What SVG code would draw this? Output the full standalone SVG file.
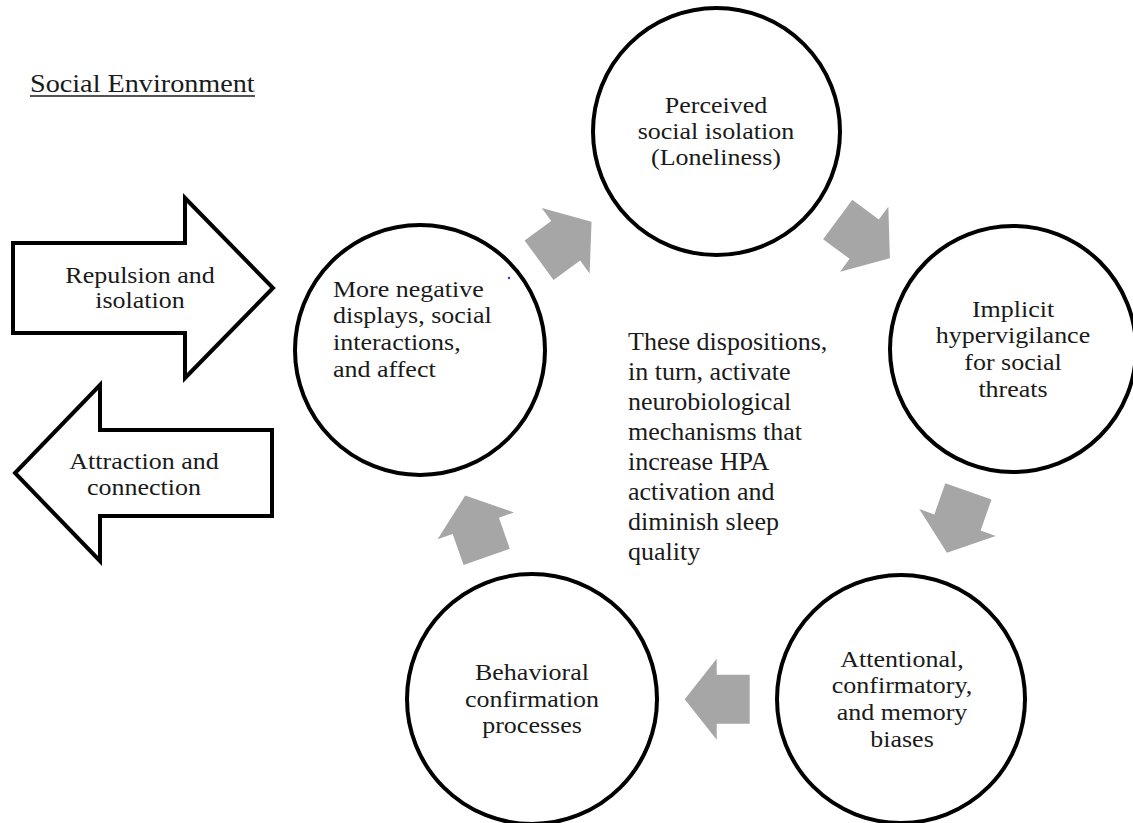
<svg xmlns="http://www.w3.org/2000/svg" width="1133" height="823" viewBox="0 0 1133 823">
<style>
text{font-family:"Liberation Serif","Times New Roman",serif;font-size:22.6px;fill:#1a1a1a}
.c{text-anchor:middle}
.mid text{font-size:26px}
.ttl{font-size:26px}
.node{fill:#fff;stroke:#000;stroke-width:4}
.big{fill:#fff;stroke:#000;stroke-width:4;stroke-linejoin:miter}
.ga{fill:#a6a6a6}
</style>
<defs>
<path id="ga" d="M-33,-24.5 L0,-24.5 L0,-40.5 L32,0 L0,40.5 L0,24.5 L-33,24.5 Z"/>
</defs>
<rect width="1133" height="823" fill="#fff"/>
<g id="title">
<text class="ttl" transform="translate(30,92) scale(1.085,1)">Social Environment</text>
<line x1="30" y1="96" x2="255" y2="96" stroke="#1a1a1a" stroke-width="1.3"/>
</g>
<g id="repulsion">
<path class="big" d="M13,243 L185,243 L185,198 L273,288 L185,378 L185,333 L13,333 Z"/>
<g transform="translate(140,0) scale(1.15,1)">
<text class="c" x="0" y="283">Repulsion and</text>
<text class="c" x="0" y="308">isolation</text>
</g>
</g>
<g id="attraction">
<path class="big" d="M272,430 L100,430 L100,385 L15,473 L100,561 L100,516 L272,516 Z"/>
<g transform="translate(144,0) scale(1.15,1)">
<text class="c" x="0" y="469">Attraction and</text>
<text class="c" x="0" y="495">connection</text>
</g>
</g>
<g id="connectors" class="ga">
<use href="#ga" transform="translate(565.7,240.7) rotate(-36.2)"/>
<use href="#ga" transform="translate(864.2,239.2) rotate(36.6)"/>
<use href="#ga" transform="translate(957.5,522.5) rotate(109.3)"/>
<use href="#ga" transform="translate(716.7,699.2) rotate(180)"/>
<use href="#ga" transform="translate(475.8,525.8) rotate(-109.3)"/>
</g>
<g id="perceived">
<circle class="node" cx="716.5" cy="131.5" r="123.5"/>
<g transform="translate(716,0) scale(1.15,1)">
<text class="c" x="0" y="113">Perceived</text>
<text class="c" x="0" y="139">social isolation</text>
<text class="c" x="0" y="165">(Loneliness)</text>
</g>
</g>
<g id="implicit">
<circle class="node" cx="1013" cy="349" r="123"/>
<g transform="translate(1013,0) scale(1.15,1)">
<text class="c" x="0" y="317">Implicit</text>
<text class="c" x="0" y="343">hypervigilance</text>
<text class="c" x="0" y="370">for social</text>
<text class="c" x="0" y="397">threats</text>
</g>
</g>
<g id="attentional">
<circle class="node" cx="901" cy="699" r="124"/>
<g transform="translate(902,0) scale(1.15,1)">
<text class="c" x="0" y="667">Attentional,</text>
<text class="c" x="0" y="693">confirmatory,</text>
<text class="c" x="0" y="720">and memory</text>
<text class="c" x="0" y="747">biases</text>
</g>
</g>
<g id="behavioral">
<circle class="node" cx="532" cy="699" r="125"/>
<g transform="translate(532,0) scale(1.15,1)">
<text class="c" x="0" y="680">Behavioral</text>
<text class="c" x="0" y="707">confirmation</text>
<text class="c" x="0" y="733">processes</text>
</g>
</g>
<g id="negative">
<circle class="node" cx="420" cy="350" r="125"/>
<g transform="translate(333,0) scale(1.15,1)">
<text x="0" y="297">More negative</text>
<text x="0" y="323">displays, social</text>
<text x="0" y="350">interactions,</text>
<text x="0" y="377">and affect</text>
</g>
<circle cx="509" cy="278" r="1.2" fill="#3030ff"/>
</g>
<g id="center-note" class="mid">
<text x="628" y="350">These dispositions,</text>
<text x="628" y="380">in turn, activate</text>
<text x="628" y="410">neurobiological</text>
<text x="628" y="440">mechanisms that</text>
<text x="628" y="470">increase HPA</text>
<text x="628" y="500">activation and</text>
<text x="628" y="530">diminish sleep</text>
<text x="628" y="560">quality</text>
</g>
</svg>
